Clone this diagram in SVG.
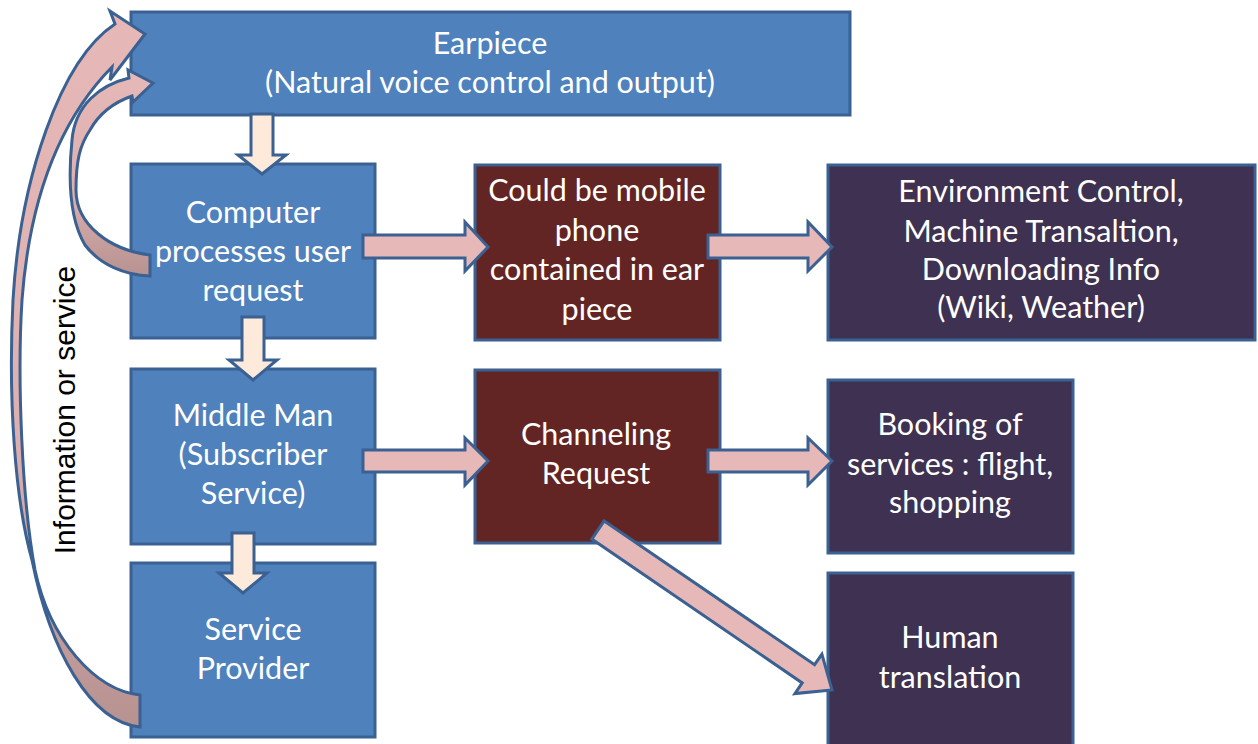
<svg xmlns="http://www.w3.org/2000/svg" width="1258" height="744" viewBox="0 0 1258 744">
<defs>
<style>
.box{stroke:#3A6191;stroke-width:3}
.blue{fill:#4F81BD}
.brown{fill:#632523}
.purple{fill:#3F3151}
.t{font-family:Lato,"Open Sans","Liberation Sans",sans-serif;font-size:30.5px;fill:#FFFFFF;text-anchor:middle}
.down{fill:#FDEADA;stroke:#3A6191;stroke-width:3;stroke-linejoin:miter}
.right{fill:#E6B9B8;stroke:#3A6191;stroke-width:3;stroke-linejoin:miter}
.curve{stroke:#3A6191;stroke-width:3;stroke-linejoin:miter}
.lbl{font-family:"Liberation Sans",Arial,sans-serif;font-size:30px;fill:#000000;text-anchor:middle}
</style>
<linearGradient id="cg" x1="0" y1="0" x2="0" y2="1">
<stop offset="0" stop-color="#E6B9B8"/>
<stop offset="0.6" stop-color="#DDB0AF"/>
<stop offset="1" stop-color="#B69290"/>
</linearGradient>
</defs>
<rect width="1258" height="744" fill="#FFFFFF"/>

<g id="earpiece">
<rect class="box blue" x="131" y="12" width="719" height="103"/>
<text class="t" x="490" y="54">Earpiece</text>
<text class="t" x="490" y="93">(Natural voice control and output)</text>
</g>

<g id="computer">
<rect class="box blue" x="131" y="164" width="244" height="174"/>
<text class="t" x="253" y="223">Computer</text>
<text class="t" x="253" y="262">processes user</text>
<text class="t" x="253" y="301">request</text>
</g>

<g id="middleman">
<rect class="box blue" x="131" y="369" width="244" height="175"/>
<text class="t" x="253" y="426">Middle Man</text>
<text class="t" x="253" y="465">(Subscriber</text>
<text class="t" x="253" y="504">Service)</text>
</g>

<g id="provider">
<rect class="box blue" x="131" y="563" width="244" height="174"/>
<text class="t" x="253" y="640">Service</text>
<text class="t" x="253" y="679">Provider</text>
</g>

<g id="mobile">
<rect class="box brown" x="475" y="165" width="245" height="175"/>
<text class="t" x="597" y="201">Could be mobile</text>
<text class="t" x="597" y="241">phone</text>
<text class="t" x="597" y="280">contained in ear</text>
<text class="t" x="597" y="320">piece</text>
</g>

<g id="channeling">
<rect class="box brown" x="475" y="370" width="245" height="173"/>
<text class="t" x="596" y="445">Channeling</text>
<text class="t" x="596" y="484">Request</text>
</g>

<g id="environment">
<rect class="box purple" x="828" y="165" width="427" height="175"/>
<text class="t" x="1041" y="202">Environment Control,</text>
<text class="t" x="1041" y="242">Machine Transaltion,</text>
<text class="t" x="1041" y="280">Downloading Info</text>
<text class="t" x="1041" y="318">(Wiki, Weather)</text>
</g>

<g id="booking">
<rect class="box purple" x="828" y="380" width="245" height="173"/>
<text class="t" x="950" y="435">Booking of</text>
<text class="t" x="950" y="475">services : flight,</text>
<text class="t" x="950" y="513">shopping</text>
</g>

<g id="human">
<rect class="box purple" x="828" y="573" width="245" height="180"/>
<text class="t" x="950" y="648">Human</text>
<text class="t" x="950" y="688">translation</text>
</g>

<g id="connectors">
<polygon class="down" points="251,114 273,114 273,155 286,155 262,174 238,155 251,155"/>
<polygon class="down" points="242,317 264,317 264,360 277,360 253,380 229,360 242,360"/>
<polygon class="down" points="232,533 254,533 254,573 267,573 243,593 219,573 232,573"/>
<polygon class="right" points="363,235 465,235 465,222 488,247 465,271 465,258 363,258"/>
<polygon class="right" points="708,235 808,235 808,222 832,247 808,271 808,258 708,258"/>
<polygon class="right" points="363,450 465,450 465,438 488,461 465,485 465,472 363,472"/>
<polygon class="right" points="708,450 808,450 808,438 832,461 808,485 808,472 708,472"/>
<polygon class="right" points="604.2,520.9 814.6,664.7 821.9,654.2 832,690 794.9,693.6 802.2,682.9 591.8,539.1"/>
<path class="curve" fill="url(#cg)" d="M140,695 C95,690 50,640 35,570 C22,500 17,380 22,300 C28,220 50,130 112,67 L110,80 L145,34 L110,11 L115,24 C60,60 20,180 13,300 C8,400 15,500 32,560 C50,650 90,722 140,727 Z"/>
<path class="curve" fill="url(#cg)" d="M150,255 C110,250 76,225 76,190 C76,160 80,145 90,130 C100,112 115,102 132,96 L133,102 L153,83 L128,70 L129,78 C100,85 75,105 72,140 C68,180 70,220 85,245 C100,265 125,275 150,276 Z"/>
</g>

<g id="label">
<text class="lbl" transform="translate(75,410) rotate(-90)">Information or service</text>
</g>
</svg>
